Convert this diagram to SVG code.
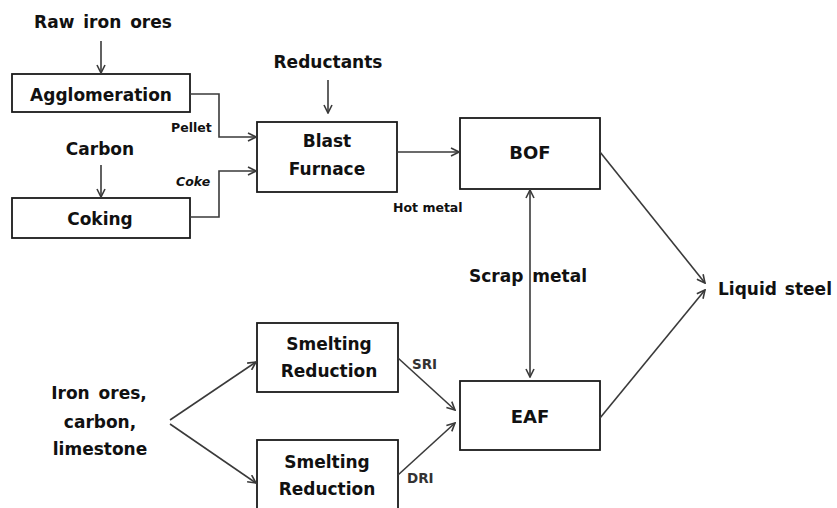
<svg xmlns="http://www.w3.org/2000/svg" width="837" height="508" viewBox="0 0 837 508">
<defs>
<style>
.box{fill:#fff;stroke:#1a1a1a;stroke-width:1.8}
.t{font-family:"Comic Sans MS","DejaVu Sans",sans-serif;font-weight:bold;font-size:17px;fill:#111;text-anchor:middle}
.s{font-family:"Comic Sans MS","DejaVu Sans",sans-serif;font-weight:bold;font-size:12.5px;fill:#111}
.v{font-family:"DejaVu Sans",Verdana,sans-serif;font-weight:bold;font-size:13.5px;fill:#333}
.c{fill:none;stroke:#3a3a3a;stroke-width:1.6}
</style>
<marker id="ah" viewBox="0 0 10 10" refX="9" refY="5" markerWidth="10" markerHeight="10" markerUnits="userSpaceOnUse" orient="auto-start-reverse">
<path d="M1,1 L9,5 L1,9" fill="none" stroke="#3a3a3a" stroke-width="1.6"/>
</marker>
</defs>
<rect width="837" height="508" fill="#fff"/>

<g id="raw-iron-ores"><text class="t" x="103" y="28" style="word-spacing:3px">Raw iron ores</text></g>
<g id="agglomeration"><rect class="box" x="12" y="74" width="178" height="38"/><text class="t" x="101" y="101">Agglomeration</text></g>
<g id="carbon"><text class="t" x="100" y="155">Carbon</text></g>
<g id="coking"><rect class="box" x="12" y="198" width="178" height="40"/><text class="t" x="100" y="225">Coking</text></g>
<g id="reductants"><text class="t" x="328" y="68">Reductants</text></g>
<g id="blast-furnace"><rect class="box" x="257" y="122" width="140" height="70"/><text class="t" x="327" y="147">Blast</text><text class="t" x="327" y="175">Furnace</text></g>
<g id="bof"><rect class="box" x="460" y="118" width="140" height="71"/><text class="t" x="530" y="159" style="font-size:18px">BOF</text></g>
<g id="scrap-metal"><text class="t" x="528" y="282" style="word-spacing:3px">Scrap metal</text></g>
<g id="liquid-steel"><text class="t" x="718" y="295" style="text-anchor:start;word-spacing:2px">Liquid steel</text></g>
<g id="iron-ores"><text class="t" x="99" y="399" style="word-spacing:3px">Iron ores,</text><text class="t" x="100" y="428">carbon,</text><text class="t" x="100" y="455">limestone</text></g>
<g id="smelting-reduction-1"><rect class="box" x="257" y="323" width="141" height="69"/><text class="t" x="329" y="350">Smelting</text><text class="t" x="329" y="377">Reduction</text></g>
<g id="smelting-reduction-2"><rect class="box" x="257" y="440" width="141" height="80"/><text class="t" x="327" y="468">Smelting</text><text class="t" x="327" y="495">Reduction</text></g>
<g id="eaf"><rect class="box" x="460" y="381" width="140" height="69"/><text class="t" x="530" y="423" style="font-family:Verdana,'DejaVu Sans',sans-serif;font-size:18px">EAF</text></g>

<g id="connectors">
<line class="c" x1="101" y1="41" x2="101" y2="73" marker-end="url(#ah)"/>
<line class="c" x1="101" y1="165" x2="101" y2="197" marker-end="url(#ah)"/>
<line class="c" x1="328" y1="80" x2="328" y2="113" marker-end="url(#ah)"/>
<polyline class="c" points="190,94 219,94 219,137 256,137" marker-end="url(#ah)"/>
<polyline class="c" points="190,217 219,217 219,171 256,171" marker-end="url(#ah)"/>
<line class="c" x1="397" y1="152" x2="459" y2="152" marker-end="url(#ah)"/>
<line class="c" x1="530" y1="190" x2="530" y2="377" marker-start="url(#ah)" marker-end="url(#ah)"/>
<line class="c" x1="600" y1="152" x2="705" y2="283" marker-end="url(#ah)"/>
<line class="c" x1="600" y1="418" x2="705" y2="290" marker-end="url(#ah)"/>
<line class="c" x1="170" y1="420" x2="256" y2="362" marker-end="url(#ah)"/>
<line class="c" x1="170" y1="424" x2="256" y2="483" marker-end="url(#ah)"/>
<line class="c" x1="398" y1="358" x2="455" y2="410" marker-end="url(#ah)"/>
<line class="c" x1="398" y1="475" x2="455" y2="423" marker-end="url(#ah)"/>
<text class="s" x="171" y="132">Pellet</text>
<text class="s" x="176" y="186" font-style="italic">Coke</text>
<text class="s" x="393" y="212">Hot metal</text>
<text class="v" x="412" y="369">SRI</text>
<text class="v" x="407" y="483">DRI</text>
</g>
</svg>
